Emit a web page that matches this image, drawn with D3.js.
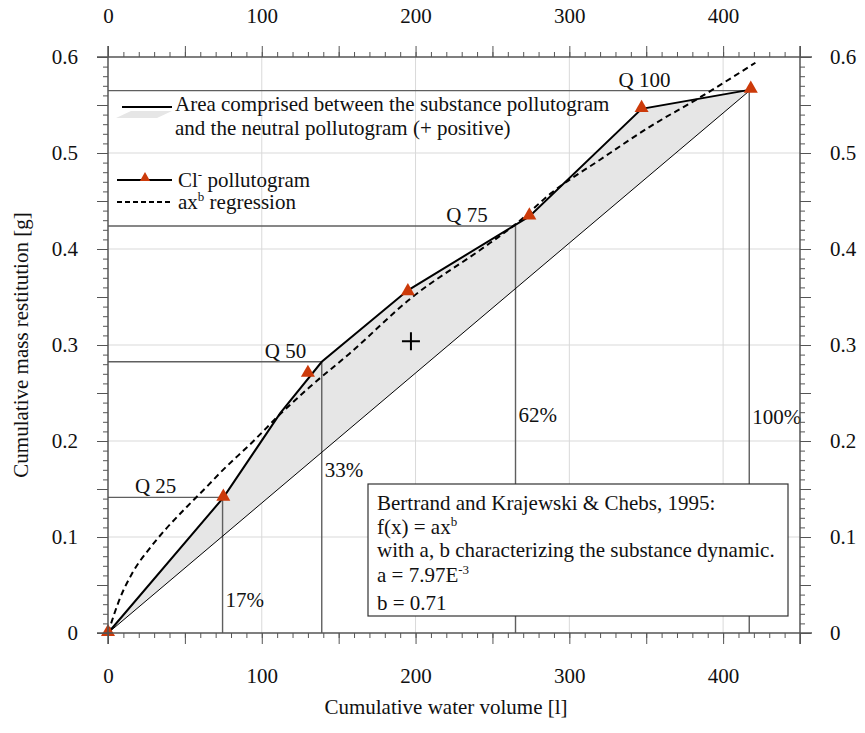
<!DOCTYPE html>
<html>
<head>
<meta charset="utf-8">
<script src="https://cdn.jsdelivr.net/npm/d3@7"></script>
<style>
  body { margin: 0; background: #fff; }
  svg text { font-family: "Liberation Serif", "Times New Roman", serif; font-size: 21px; fill: #111; }
</style>
</head>
<body>
<svg id="chart" width="865" height="733"></svg>
<script>
// Cl- pollutogram (markers)
const clVolume = [0, 75, 130, 195, 274, 347, 418];
const clMass = [0, 0.141, 0.270, 0.355, 0.434, 0.546, 0.566];

// substance pollutogram (solid line bounding the grey area)
const substVolume = [0, 75, 112, 139, 195, 274, 347, 418];
const substMass = [0, 0.141, 0.229, 0.2825, 0.357, 0.434, 0.546, 0.566];

// neutral pollutogram
const neutralVolume = [0, 418];
const neutralMass = [0, 0.566];

// ax^b regression
const regVolume = [0, 8, 16, 27, 38, 51, 64, 73, 94, 112, 131, 157, 198, 242, 266, 288, 320, 352, 385, 421];
const regMass = [0, 0.037, 0.063, 0.088, 0.109, 0.131, 0.152, 0.167, 0.199, 0.228, 0.256, 0.291, 0.350, 0.399, 0.427, 0.458, 0.493, 0.527, 0.558, 0.594];

// quantiles
const qLabels = ["Q 25", "Q 50", "Q 75", "Q 100"];
const qMass = [0.1413, 0.2825, 0.424, 0.565];
const qVolume = [74.5, 139, 265, 417];
const qLabelVolume = [17.5, 102, 220, 332];
const pctLabels = ["17%", "33%", "62%", "100%"];
const pctMass = [0.027, 0.163, 0.220, 0.218];

const centroid = [197, 0.304];

const svg = d3.select("#chart");
const mLeft = 108, mRight = 800, mTop = 57, mBottom = 633;

const x = d3.scaleLinear().domain([0, 450]).range([mLeft, mRight]);
const y = d3.scaleLinear().domain([0, 0.6]).range([mBottom, mTop]);

const axisColor = "#555";

// gridlines
const grid = svg.append("g").attr("stroke", "#d9d9d9").attr("stroke-width", 1);
grid.selectAll("line.v").data([100, 200, 300, 400]).enter().append("line")
    .attr("x1", d => x(d)).attr("x2", d => x(d))
    .attr("y1", mTop).attr("y2", mBottom);
grid.selectAll("line.h").data([0.1, 0.2, 0.3, 0.4, 0.5]).enter().append("line")
    .attr("x1", mLeft).attr("x2", mRight)
    .attr("y1", d => y(d)).attr("y2", d => y(d));

// grey area between substance and neutral pollutogram
const subst = substVolume.map((v, i) => [v, substMass[i]]);
const neutral = neutralVolume.map((v, i) => [v, neutralMass[i]]);
const areaPts = subst.concat(neutral.slice().reverse());
svg.append("path")
    .attr("d", d3.line().x(d => x(d[0])).y(d => y(d[1]))(areaPts) + "Z")
    .attr("fill", "#e6e6e6");

// quantile lines
const q = svg.append("g").attr("stroke", "#5f5f5f").attr("stroke-width", 1.4).attr("fill", "none");
qMass.forEach((m, i) => {
    q.append("line")
        .attr("x1", x(0)).attr("x2", x(qVolume[i]))
        .attr("y1", y(m)).attr("y2", y(m));
    q.append("line")
        .attr("x1", x(qVolume[i])).attr("x2", x(qVolume[i]))
        .attr("y1", y(m)).attr("y2", y(0));
});
qLabels.forEach((t, i) => {
    svg.append("text").attr("x", x(qLabelVolume[i])).attr("y", y(qMass[i]) - 4).text(t);
    svg.append("text").attr("x", x(qVolume[i]) + 3).attr("y", y(pctMass[i])).text(pctLabels[i]);
});

// neutral line
svg.append("path")
    .attr("d", d3.line().x(d => x(d[0])).y(d => y(d[1]))(neutral))
    .attr("fill", "none").attr("stroke", "#000").attr("stroke-width", 1);

// regression (dashed)
const reg = regVolume.map((v, i) => [v, regMass[i]]);
svg.append("path")
    .attr("d", d3.line().curve(d3.curveMonotoneX).x(d => x(d[0])).y(d => y(d[1]))(reg))
    .attr("fill", "none").attr("stroke", "#000").attr("stroke-width", 2)
    .attr("stroke-dasharray", "6,4");

// substance pollutogram
svg.append("path")
    .attr("d", d3.line().x(d => x(d[0])).y(d => y(d[1]))(subst))
    .attr("fill", "none").attr("stroke", "#000").attr("stroke-width", 2);

// markers
const tri = d3.symbol().type(d3.symbolTriangle).size(85);
svg.selectAll("path.cl").data(clVolume.map((v, i) => [v, clMass[i]])).enter().append("path")
    .attr("class", "cl")
    .attr("d", tri)
    .attr("transform", d => `translate(${x(d[0])},${y(d[1]) - 1})`)
    .attr("fill", "#cc3a0a");

// centroid cross
const cx = x(centroid[0]), cy = y(centroid[1]);
svg.append("path")
    .attr("d", `M${cx - 9},${cy}H${cx + 9}M${cx},${cy - 9}V${cy + 9}`)
    .attr("stroke", "#000").attr("stroke-width", 2);

// axes
const minorX = d3.range(0, 451, 10);
const majorX = d3.range(0, 451, 50);
const minorY = d3.range(0, 61, 1).map(d => d / 100);
const majorY = d3.range(0, 61, 5).map(d => d / 100);
const fmtX = d => (d % 100 === 0 && d <= 400) ? d : "";
const fmtY = d => (Math.round(d * 100) % 10 === 0) ? (d === 0 ? "0" : d3.format(".1f")(d)) : "";

function drawAxis(gen, scale, transform, minor, major, fmt, pad) {
    svg.append("g").attr("transform", transform)
        .call(gen(scale).tickValues(minor).tickSize(5).tickSizeOuter(0).tickFormat(""))
        .call(g => g.select(".domain").remove());
    svg.append("g").attr("transform", transform)
        .call(gen(scale).tickValues(major).tickSize(11).tickSizeOuter(0).tickFormat(fmt).tickPadding(pad))
        .call(g => g.select(".domain").remove());
}
drawAxis(d3.axisBottom, x, `translate(0,${mBottom})`, minorX, majorX, fmtX, 24);
drawAxis(d3.axisTop, x, `translate(0,${mTop})`, minorX, majorX, fmtX, 23);
drawAxis(d3.axisLeft, y, `translate(${mLeft},0)`, minorY, majorY, fmtY, 19);
drawAxis(d3.axisRight, y, `translate(${mRight},0)`, minorY, majorY, fmtY, 19);

svg.selectAll(".tick line").attr("stroke", axisColor);
svg.selectAll(".tick text")
    .style("font-family", "'Liberation Serif', 'Times New Roman', serif")
    .style("font-size", "21px").attr("fill", "#111");

// axis lines, extended past the corners
const frame = svg.append("g").attr("stroke", axisColor).attr("stroke-width", 1.5);
frame.append("line").attr("x1", mLeft - 11).attr("x2", mRight + 12).attr("y1", mBottom).attr("y2", mBottom);
frame.append("line").attr("x1", mLeft - 11).attr("x2", mRight + 12).attr("y1", mTop).attr("y2", mTop);
frame.append("line").attr("x1", mLeft).attr("x2", mLeft).attr("y1", mTop - 11).attr("y2", mBottom + 11);
frame.append("line").attr("x1", mRight).attr("x2", mRight).attr("y1", mTop - 11).attr("y2", mBottom + 11);

// axis titles
svg.append("text").attr("x", (mLeft + mRight) / 2 - 8).attr("y", 714)
    .attr("text-anchor", "middle").text("Cumulative water volume [l]");
svg.append("text").attr("transform", `translate(28,${(mTop + mBottom) / 2}) rotate(-90)`)
    .attr("text-anchor", "middle").text("Cumulative mass restitution [g]");

// legend
const lg = svg.append("g");
lg.append("path").attr("d", "M116,118L131,111L172,111L157,118Z").attr("fill", "#e6e6e6");
lg.append("line").attr("x1", 122).attr("x2", 172).attr("y1", 107).attr("y2", 107)
    .attr("stroke", "#000").attr("stroke-width", 2);
lg.append("text").attr("x", 175).attr("y", 111).text("Area comprised between the substance pollutogram");
lg.append("text").attr("x", 175).attr("y", 135).text("and the neutral pollutogram (+ positive)");

lg.append("line").attr("x1", 117).attr("x2", 172).attr("y1", 180).attr("y2", 180)
    .attr("stroke", "#000").attr("stroke-width", 2);
lg.append("path").attr("d", d3.symbol().type(d3.symbolTriangle).size(45)())
    .attr("transform", "translate(145,178)").attr("fill", "#cc3a0a");
const t1 = lg.append("text").attr("x", 178).attr("y", 187);
t1.append("tspan").text("Cl");
t1.append("tspan").attr("dy", -8).style("font-size", "13px").text("-");
t1.append("tspan").attr("dy", 8).text(" pollutogram");

lg.append("line").attr("x1", 117).attr("x2", 172).attr("y1", 202).attr("y2", 202)
    .attr("stroke", "#000").attr("stroke-width", 2).attr("stroke-dasharray", "5,3");
const t2 = lg.append("text").attr("x", 178).attr("y", 209);
t2.append("tspan").text("ax");
t2.append("tspan").attr("dy", -8).style("font-size", "13px").text("b");
t2.append("tspan").attr("dy", 8).text(" regression");

// info box
const box = svg.append("g");
box.append("rect").attr("x", 368).attr("y", 484).attr("width", 420).attr("height", 132)
    .attr("fill", "#fff").attr("stroke", "#333").attr("stroke-width", 1.2);
box.append("text").attr("x", 377).attr("y", 510).text("Bertrand and Krajewski & Chebs, 1995:");
const b2 = box.append("text").attr("x", 377).attr("y", 534);
b2.append("tspan").text("f(x) = ax");
b2.append("tspan").attr("dy", -8).style("font-size", "13px").text("b");
box.append("text").attr("x", 377).attr("y", 557).text("with a, b characterizing the substance dynamic.");
const b4 = box.append("text").attr("x", 377).attr("y", 582);
b4.append("tspan").text("a = 7.97E");
b4.append("tspan").attr("dy", -8).style("font-size", "13px").text("-3");
box.append("text").attr("x", 377).attr("y", 610).text("b = 0.71");
</script>
</body>
</html>
